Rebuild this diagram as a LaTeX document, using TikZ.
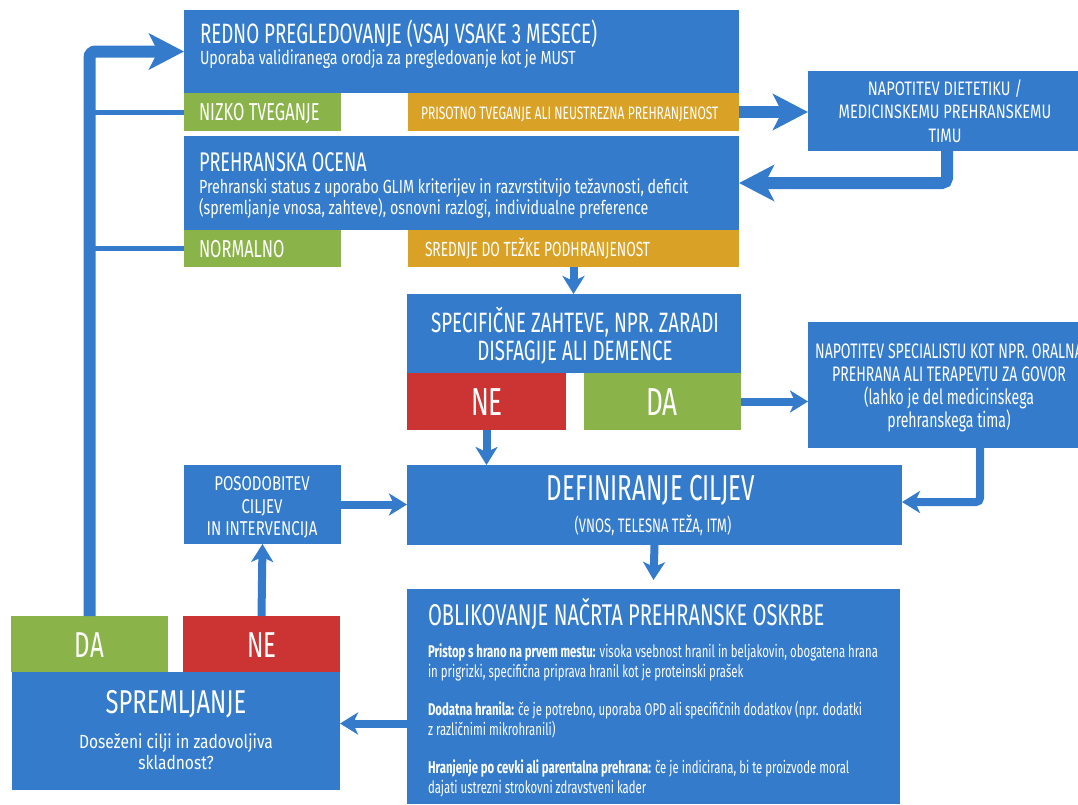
\documentclass[tikz,border=0pt]{standalone}
\usepackage{fontspec}
\setmainfont{Fira Sans}[FakeStretch=0.67]
\newfontfamily\fw{Fira Sans}[FakeStretch=0.72]
\newfontfamily\fww{Fira Sans}[FakeStretch=0.75]
\newfontfamily\fwww{Fira Sans}[FakeStretch=0.82]
\usetikzlibrary{arrows.meta}
\definecolor{cblue}{RGB}{52,123,204}
\definecolor{cgreen}{RGB}{138,179,74}
\definecolor{corange}{RGB}{217,162,38}
\definecolor{cred}{RGB}{204,51,51}
\newcommand\fsz[1]{\fontsize{#1pt}{1.2\dimexpr#1pt\relax}\selectfont}
\newcommand\mkbox[6]{\node[boxnode,fill=#2,minimum width=#5pt-#3pt,minimum height=#6pt-#4pt] (#1) at (#3,#4) {};}
\begin{document}
\begin{tikzpicture}[x=1pt,y=-1pt,
  boxnode/.style={inner sep=0pt,outer sep=0pt,anchor=north west,draw=none},
  txt/.style={text=white,inner sep=0pt,outer sep=0pt},
  tl/.style={txt,anchor=base west},
  tc/.style={txt,anchor=base},
  bigarrow/.style={draw=cblue,line width=12pt,-{Stealth[length=35pt,width=36pt,inset=9pt]}},
  smallarrow/.style={draw=cblue,line width=8pt,-{Stealth[length=18pt,width=22pt,inset=5pt]}},
  branchline/.style={draw=cblue,line width=5pt},
]
\useasboundingbox (0,0) rectangle (1078,804);
% boxes
\mkbox{b1}{cblue}{184}{10}{739}{93}
\mkbox{nizko}{cgreen}{184}{93}{341}{131}
\mkbox{prisotno}{corange}{408}{93}{739}{131}
\mkbox{napdiet}{cblue}{808}{71}{1078}{151}
\mkbox{b2}{cblue}{184}{136}{739}{230}
\mkbox{normal}{cgreen}{184}{230}{341}{267}
\mkbox{sred}{corange}{408}{230}{739}{267}
\mkbox{spec}{cblue}{407}{294}{741}{373}
\mkbox{ne1}{cred}{407}{373}{566}{430}
\mkbox{da1}{cgreen}{584}{373}{741}{430}
\mkbox{spec2}{cblue}{808}{322}{1078}{448}
\mkbox{posod}{cblue}{184}{465}{341}{544}
\mkbox{def}{cblue}{407}{465}{902}{545}
\mkbox{oblik}{cblue}{407}{589}{900}{804}
\mkbox{da2}{cgreen}{11}{616}{168}{672}
\mkbox{ne2}{cred}{183}{616}{340}{672}
\mkbox{spreml}{cblue}{12}{672}{340}{790}
% texts
\node[tl,font=\fsz{28}] (t1a) at (200,43) {REDNO PREGLEDOVANJE (VSAJ VSAKE 3 MESECE)};
\node[tl,font=\fww\fsz{19}] (t1b) at (200,64) {Uporaba validiranega orodja za pregledovanje kot je MUST};
\node[tl,font=\fsz{24.5}] (tniz) at (199,120.5) {NIZKO TVEGANJE};
\node[tl,font=\fsz{18}] (tpri) at (421,119) {PRISOTNO TVEGANJE ALI NEUSTREZNA PREHRANJENOST};
\node[tl,font=\fsz{27}] (t2a) at (199,171) {PREHRANSKA OCENA};
\node[tl,font=\fww\fsz{19}] (t2b) at (199,193) {Prehranski status z uporabo GLIM kriterijev in razvrstitvijo težavnosti, deficit};
\node[tl,font=\fww\fsz{19}] (t2c) at (199,214) {(spremljanje vnosa, zahteve), osnovni razlogi, individualne preference};
\node[tl,font=\fsz{24.5}] (tnor) at (199,257) {NORMALNO};
\node[tl,font=\fsz{20.5}] (tsre) at (425,256.5) {SREDNJE DO TEŽKE PODHRANJENOST};
\node[tc,font=\fww\fsz{19.5}] (tnd1) at (945,95) {NAPOTITEV DIETETIKU /};
\node[tc,font=\fww\fsz{19.5}] (tnd2) at (945,118) {MEDICINSKEMU PREHRANSKEMU};
\node[tc,font=\fww\fsz{19.5}] (tnd3) at (945,142) {TIMU};
\node[tc,font=\fsz{28}] (tsp1) at (575,332) {SPECIFIČNE ZAHTEVE, NPR. ZARADI};
\node[tc,font=\fsz{28}] (tsp2) at (575,360) {DISFAGIJE ALI DEMENCE};
\node[tc,font=\fsz{39}] (tne1) at (487,415) {NE};
\node[tc,font=\fsz{39}] (tda1) at (662,415) {DA};
\node[tc,font=\fsz{21}] (tsq1) at (949,358) {NAPOTITEV SPECIALISTU KOT NPR. ORALNA};
\node[tc,font=\fsz{21}] (tsq2) at (949,381) {PREHRANA ALI TERAPEVTU ZA GOVOR};
\node[tc,font=\fsz{21}] (tsq3) at (949,404) {(lahko je del medicinskega};
\node[tc,font=\fsz{21}] (tsq4) at (949,427) {prehranskega tima)};
\node[tc,font=\fww\fsz{20}] (tpo1) at (262,490) {POSODOBITEV};
\node[tc,font=\fww\fsz{20}] (tpo2) at (262,513) {CILJEV};
\node[tc,font=\fww\fsz{20}] (tpo3) at (262,535) {IN INTERVENCIJA};
\node[tc,font=\fsz{36}] (tdef) at (651,500) {DEFINIRANJE CILJEV};
\node[tc,font=\fsz{19.5}] (tdefb) at (653,532) {(VNOS, TELESNA TEŽA, ITM)};
\node[tl,font=\fsz{30}] (tob) at (428,625) {OBLIKOVANJE NAČRTA PREHRANSKE OSKRBE};
\node[tl,font=\fsz{17}] (to1) at (428,657) {\textbf{Pristop s hrano na prvem mestu:} visoka vsebnost hranil in beljakovin, obogatena hrana};
\node[tl,font=\fsz{17}] (to2) at (428,677) {in prigrizki, specifična priprava hranil kot je proteinski prašek};
\node[tl,font=\fsz{17}] (to3) at (428,715) {\textbf{Dodatna hranila:} če je potrebno, uporaba OPD ali specifičnih dodatkov (npr. dodatki};
\node[tl,font=\fsz{17}] (to4) at (428,735) {z različnimi mikrohranili)};
\node[tl,font=\fsz{17}] (to5) at (428,773) {\textbf{Hranjenje po cevki ali parentalna prehrana:} če je indicirana, bi te proizvode moral};
\node[tl,font=\fsz{17}] (to6) at (428,793) {dajati ustrezni strokovni zdravstveni kader};
\node[tc,font=\fsz{36}] (tda2) at (89.5,657) {DA};
\node[tc,font=\fsz{36}] (tne2) at (262,657) {NE};
\node[tc,font=\fw\fsz{33}] (tspr) at (176,713) {SPREMLJANJE};
\node[tc,font=\fwww\fsz{19}] (tsr1) at (176,748) {Doseženi cilji in zadovoljiva};
\node[tc,font=\fwww\fsz{19}] (tsr2) at (176,769) {skladnost?};
% connectors
\draw[bigarrow] (prisotno.east) -- (prisotno.east -| napdiet.west);
\draw[bigarrow,rounded corners=5pt] ([xshift=4pt]napdiet.south) |- (b2.east);
\draw[smallarrow] (sred.south) -- (sred.south |- spec.north);
\draw[smallarrow] (da1.east) -- (da1.east -| spec2.west);
\draw[smallarrow,rounded corners=4pt] ([xshift=37pt]spec2.south) |- ([yshift=3pt]def.east);
\draw[smallarrow] (ne1.south) -- (ne1.south |- def.north);
\draw[smallarrow] (posod.east) -- (posod.east -| def.west);
\draw[smallarrow] (def.south) -- ([yshift=9pt]oblik.north);
\draw[smallarrow] ([yshift=-27pt]oblik.west) -- ([yshift=-27pt]oblik.west -| spreml.east);
\draw[smallarrow] (ne2.north) -- (posod.south);
\draw[branchline] (nizko.west) -- (nizko.west -| da2.north);
\draw[branchline] (normal.west) -- (normal.west -| da2.north);
\draw[bigarrow,rounded corners=6pt] (da2.north) |- (b1.west);
\end{tikzpicture}
\end{document}
